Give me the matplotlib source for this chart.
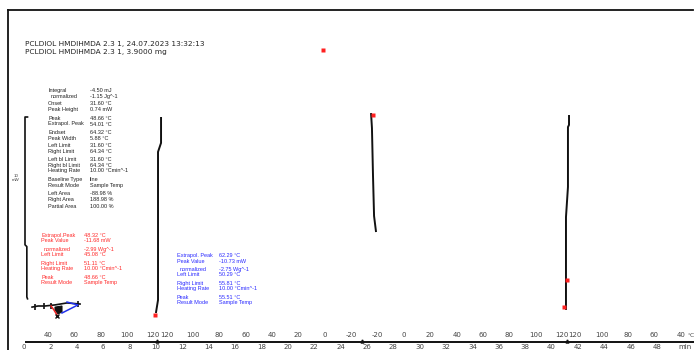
import matplotlib
matplotlib.use("Agg")
import matplotlib.pyplot as plt
from matplotlib.transforms import blended_transform_factory

W, H, DPI = 694, 350, 100

# ---- measurement header -------------------------------------------------
header_lines = [
    "PCLDIOL HMDIHMDA 2.3 1, 24.07.2023 13:32:13",
    "PCLDIOL HMDIHMDA 2.3 1, 3.9000 mg",
]

# ---- DSC signal segments (time in min, heat flow in mW) -----------------
seg1_t = [10.39, 10.39, 10.16, 10.16, 10.00]
seg1_mw = [12.50, 11.06, 10.56, 2.33, 1.61]

seg2_t = [26.31, 26.38, 26.46, 26.54, 26.69]
seg2_mw = [12.72, 11.89, 9.22, 7.00, 6.11]

seg3_t = [41.32, 41.32, 41.24, 41.24, 41.09, 41.09]
seg3_mw = [12.61, 12.06, 11.94, 8.61, 6.94, 1.78]

# start-up region of the first heating run
start_t = [0.61, 1.06, 1.59, 2.35, 3.26, 4.25]
start_mw = [1.94, 2.00, 2.00, 2.06, 2.17, 2.11]
start_tick_t = [0.83, 1.52, 2.05, 4.09]
start_tick_mw = [1.96, 2.00, 2.02, 2.11]
blob_t = [2.35, 2.88, 2.88, 2.58, 2.35]
blob_mw = [1.94, 2.00, 1.67, 1.56, 1.78]
base_blue_t = [3.26, 4.09, 2.88]
base_blue_mw = [2.22, 2.06, 1.61]
base_red_t = [2.05, 2.27, 2.50]
base_red_mw = [2.00, 1.78, 1.50]

# evaluation markers
mark_t = [9.93, 26.46, 41.17, 40.94, 22.67]
mark_mw = [1.50, 12.61, 3.44, 1.94, 16.22]

scale_bar_mw = 10.0
scale_bar_top = 12.5

# ---- evaluation results ----------------------------------------------------
eval1_labels = ["Integral", "  normalized", "Onset", "Peak Height", "Peak",
                "Extrapol. Peak", "Endset", "Peak Width", "Left Limit",
                "Right Limit", "Left bl Limit", "Right bl Limit", "Heating Rate",
                "Baseline Type", "Result Mode", "Left Area", "Right Area",
                "Partial Area"]
eval1_values = ["-4.50 mJ", "-1.15 Jg^-1", "31.60 °C", "0.74 mW", "48.66 °C",
                "54.01 °C", "64.32 °C", "5.88 °C", "31.60 °C", "64.34 °C",
                "31.60 °C", "64.34 °C", "10.00 °Cmin^-1", "line", "Sample Temp",
                "-88.98 %", "188.98 %", "100.00 %"]

eval2_labels = ["Extrapol.Peak", "Peak Value", "  normalized", "Left Limit",
                "Right Limit", "Heating Rate", "Peak", "Result Mode"]
eval2_values = ["48.32 °C", "-11.68 mW", "-2.99 Wg^-1", "45.08 °C",
                "51.11 °C", "10.00 °Cmin^-1", "48.66 °C", "Sample Temp"]

eval3_labels = ["Extrapol. Peak", "Peak Value", "  normalized", "Left Limit",
                "Right Limit", "Heating Rate", "Peak", "Result Mode"]
eval3_values = ["62.29 °C", "-10.73 mW", "-2.75 Wg^-1", "50.29 °C",
                "55.81 °C", "10.00 °Cmin^-1", "55.51 °C", "Sample Temp"]

# ---- temperature program (°C) and time axis (min) -------------------------
heat1_temps = [40, 60, 80, 100, 120]
cool1_temps = [120, 100, 80, 60, 40, 20, 0, -20]
heat2_temps = [-20, 0, 20, 40, 60, 80, 100, 120]
cool2_temps = [120, 100, 80, 60, 40]
rate = 10.0                       # K/min
heat1_end, cool1_start = 9.8, 10.8
heat2_start, cool2_start = 26.8, 41.8
segment_bounds = [10.1, 25.6, 41.2]
time_ticks = list(range(0, 50, 2))

# ---- layout -----------------------------------------------------------------
px_per_min = 13.19
x0_px = 24.0
px_per_mw = 18.0
axis_px = 342.0

fig = plt.figure(figsize=(W / DPI, H / DPI), dpi=DPI)
ax = fig.add_axes([0, 0, 1, 1])
ax.set_axis_off()
ax.set_xlim(-x0_px / px_per_min, (W - x0_px) / px_per_min)
ax.set_ylim(-(H - axis_px) / px_per_mw, axis_px / px_per_mw)


def fp(x, y):
    return x / W, 1 - y / H


# frame
fig.add_artist(plt.Line2D([8 / W, 8 / W], [0, 1 - 10 / H], color="#111", lw=1.3))
fig.add_artist(plt.Line2D([8 / W, 693 / W], [1 - 10 / H, 1 - 10 / H], color="#111", lw=1.3))

# header
for i, line in enumerate(header_lines):
    x, y = fp(25, 46 + 8 * i)
    fig.text(x, y, line, fontsize=5.3, color="#222", va="baseline", ha="left",
             family="DejaVu Sans")

# scale bar
sb_t0 = (25 - x0_px) / px_per_min
sb_t1 = (27.5 - x0_px) / px_per_min
sb_bot = scale_bar_top - scale_bar_mw
sb_mid = sb_bot + 2.9
ax.plot([sb_t1, sb_t0, sb_t0, sb_t1 - 0.05, sb_t1 - 0.05, sb_t1],
        [scale_bar_top, scale_bar_top, sb_mid, sb_mid - 0.1, sb_bot, sb_bot - 0.1],
        color="#111", lw=1.2)
x, y = fp(16, 178)
fig.text(x, y, "10\nmW", fontsize=3.2, color="#444", ha="center", va="center",
         linespacing=1.3, family="Liberation Sans")

# signal
for t, mw in [(seg1_t, seg1_mw), (seg2_t, seg2_mw), (seg3_t, seg3_mw)]:
    ax.plot(t, mw, color="#111", lw=1.4, solid_capstyle="butt")
ax.plot(start_t, start_mw, color="#111", lw=1.2)
ax.plot(start_tick_t, start_tick_mw, ls="none", marker="|", ms=4, mew=1.2, color="#111")
ax.fill(blob_t, blob_mw, color="#111", lw=0.8)
ax.plot(base_blue_t, base_blue_mw, color="#2233ee", lw=1.1)
ax.plot(base_red_t, base_red_mw, color="#ee2222", lw=1.1)
ax.plot([2.5], [1.45], marker="x", ms=2.5, mew=1.0, color="#111")
ax.plot(mark_t, mark_mw, ls="none", marker="s", ms=2.2, mec="none", color="#ff2020")

# evaluation text blocks
def text_block(labels, values, xl, xv, ys, color):
    for lab, val, yy in zip(labels, values, ys):
        indent = 2.5 if lab.startswith("  ") else 0
        fig.text(*fp(xl + indent, yy + 2), lab.strip(), fontsize=4.0, color=color,
                 va="baseline", ha="left", family="Liberation Sans")
        fig.text(*fp(xv, yy + 2), val, fontsize=4.0, color=color,
                 va="baseline", ha="left", family="Liberation Sans")


ys1 = [90, 96, 103, 109, 118, 123.5, 132, 137.5, 145, 151, 159, 164.5, 170,
       179, 185, 193, 199, 205.5]
ys2 = [235, 240.5, 249, 254.3, 262.7, 268.3, 276.7, 282.3]
ys3 = [255, 260.7, 269, 274.3, 282.7, 288.3, 296.7, 302.3]
text_block(eval1_labels, eval1_values, 48, 90, ys1, "#222")
text_block(eval2_labels, eval2_values, 41, 83.5, ys2, "#ff2a2a")
text_block(eval3_labels, eval3_values, 177, 219, ys3, "#2a2aff")

# bottom axis
ax.plot([(25 - x0_px) / px_per_min, ax.get_xlim()[1]], [0, 0], color="#111", lw=1.4,
        solid_capstyle="butt")
ax.plot(segment_bounds, [0.06] * len(segment_bounds), ls="none", marker="^", ms=2.2,
        color="#111")

tr = blended_transform_factory(ax.transData, fig.transFigure)
y_temp = 1 - 337 / H
y_time = 1 - 349.3 / H
label_style = dict(fontsize=5, color="#444", transform=tr, family="DejaVu Sans")

temp_positions = (
    [(heat1_end - (120 - T) / rate, T) for T in heat1_temps]
    + [(cool1_start + (120 - T) / rate, T) for T in cool1_temps]
    + [(heat2_start + (T + 20) / rate, T) for T in heat2_temps]
    + [(cool2_start + (120 - T) / rate, T) for T in cool2_temps]
)
for t, T in temp_positions:
    ax.text(t, y_temp, f"{T}", ha="center", va="baseline", **label_style)
ax.text((687.5 - x0_px) / px_per_min, y_temp, "°C", ha="left", va="baseline",
        **{**label_style, "fontsize": 4.2})

for t in time_ticks:
    ax.text(t, y_time, f"{t}", ha="center", va="baseline", **label_style)
ax.text((685 - x0_px) / px_per_min, y_time, "min", ha="center", va="baseline", **label_style)

fig.savefig("out.png", dpi=DPI)
